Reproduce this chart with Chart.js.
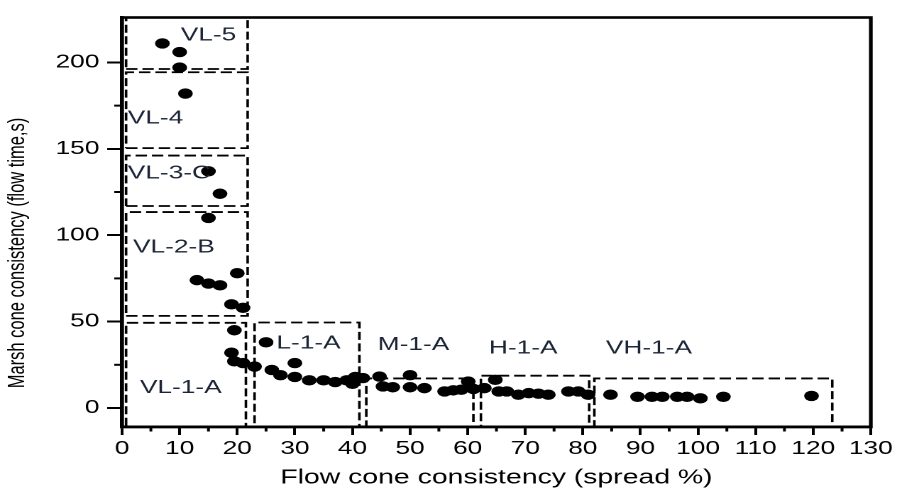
<!DOCTYPE html>
<html><head><meta charset="utf-8">
<script src="https://cdn.jsdelivr.net/npm/chart.js@4/dist/chart.umd.min.js"></script>
<style>
html,body{margin:0;padding:0;background:#fff;overflow:hidden;}
#outer{width:897px;height:490px;overflow:hidden;position:relative;}
#box{position:absolute;left:0;top:0;width:632px;height:490px;transform-origin:0 0;transform:scaleX(1.4193);}
</style></head><body>
<div id="outer"><div id="box"><canvas id="c"></canvas></div></div>
<script>
// ---- data ----
const xTickValues = [0,10,20,30,40,50,60,70,80,90,100,110,120,130];
const xMinorValues = [5,15,25,35,45,55,65,75,85,95,105,115,125];
const yTickValues = [0,50,100,150,200];
const yMinorValues = [25,75,125,175];

const spread = [
  7,10,10,11,
  15,17,15,20,13,15,17,19,21,
  19.5,25,19,19.5,21,23,26,27.5,30,30,32.5,35,37,39,40.5,40,41.8,
  44.7,45.3,47,50,50,52.5,56,57.5,58.9,60.1,61,
  62.9,64.8,65.4,66.8,68.8,70.6,72.3,74,77.5,79.2,80.9,
  84.8,89.5,92,93.8,96.4,98.1,100.4,104.4,119.7
];
const flowTime = [
  211,206,197,182,
  137,124,110,78,74,72,71,60,58,
  45,38,32,27,26,24,22,19,26,18,16,16,15,16,18,14,17.3,
  18.2,12.5,12,19,12,11.5,9.6,10.2,10.6,15.3,11,
  11.5,16.3,9.6,9.6,7.7,8.6,8.3,7.7,9.6,9.6,7.7,
  7.7,6.5,6.5,6.5,6.5,6.5,5.6,6.5,7
];

const boxNames  = ['VL-5','VL-4','VL-3-C','VL-2-B','VL-1-A','L-1-A','M-1-A','H-1-A','VH-1-A'];
const boxLeft   = [0.7,0.7,0.7,0.7,0.7,23,42.4,62.3,82];
const boxRight  = [21.8,21.8,21.8,21.8,21.5,41.2,61,81.1,123.3];
const boxBottom = [196.2,150.4,116.9,53.3,-11,-11,-11,-11,-11];
const boxTop    = [226,194.3,146.1,113.4,49.3,49.5,17.1,18.7,17.1];
const labelX    = [10.2,1.0,1.0,1.9,3.1,26.8,44.4,63.7,84];
const labelY    = [215.5,167.5,135.7,93,11.5,37.5,36.5,34.6,34.6];

const xTitle = 'Flow cone consistency (spread %)';
const yTitle = 'Marsh cone consistency (flow time,s)';
const xRange = [0,130];
const yRange = [-11,226];

// ---- build ----
const FONT = "'Liberation Sans', Arial, Helvetica, sans-serif";
const points = spread.map((x,i)=>({x, y: flowTime[i]}));

const boxDatasets = boxNames.map((n,i)=>({
  label: n,
  data: [
    {x: boxLeft[i], y: boxBottom[i]},
    {x: boxRight[i], y: boxBottom[i]},
    {x: boxRight[i], y: boxTop[i]},
    {x: boxLeft[i], y: boxTop[i]},
    {x: boxLeft[i], y: boxBottom[i]}
  ],
  showLine: true,
  borderColor: '#000',
  borderWidth: 1.8,
  borderDash: [8,3.5],
  pointRadius: 0,
  pointHoverRadius: 0,
  tension: 0,
  fill: false,
  clip: 0,
  order: 2
}));

const decor = {
  id: 'decor',
  afterDatasetsDraw(chart){
    const {ctx, chartArea:a, scales:{x, y}} = chart;
    ctx.save();
    ctx.strokeStyle = '#000';
    ctx.lineWidth = 2;
    // minor ticks
    xMinorValues.forEach(v=>{
      const p = x.getPixelForValue(v);
      ctx.beginPath(); ctx.moveTo(p, a.bottom); ctx.lineTo(p, a.bottom+4.5); ctx.stroke();
    });
    yMinorValues.forEach(v=>{
      const p = y.getPixelForValue(v);
      ctx.beginPath(); ctx.moveTo(a.left, p); ctx.lineTo(a.left-5.5, p); ctx.stroke();
    });
    // frame
    ctx.lineWidth = 2.6;
    ctx.strokeRect(a.left, a.top, a.right-a.left, a.bottom-a.top);
    // box labels
    ctx.fillStyle = '#1b2536';
    ctx.font = '18.5px ' + FONT;
    ctx.textAlign = 'left';
    ctx.textBaseline = 'middle';
    boxNames.forEach((n,i)=>{
      ctx.fillText(n, x.getPixelForValue(labelX[i]), y.getPixelForValue(labelY[i]));
    });
    // y title
    ctx.fillStyle = '#000';
    ctx.font = '16.5px ' + FONT;
    ctx.textAlign = 'center';
    ctx.translate(12.7, 253);
    ctx.rotate(-Math.PI/2);
    ctx.fillText(yTitle, 0, 0);
    ctx.restore();
  }
};

new Chart(document.getElementById('c'), {
  type: 'scatter',
  data: {
    datasets: [
      {
        label: 'data',
        data: points,
        backgroundColor: '#000',
        borderColor: '#000',
        pointRadius: 5.2,
        pointHoverRadius: 5.2,
        borderWidth: 0,
        order: 1
      },
      ...boxDatasets
    ]
  },
  options: {
    responsive: true,
    maintainAspectRatio: false,
    animation: false,
    devicePixelRatio: 2,
    events: [],
    layout: { padding: { left: 0, top: 17.5, right: 16.9, bottom: 0 } },
    plugins: { legend: { display: false }, tooltip: { enabled: false } },
    scales: {
      x: {
        type: 'linear',
        min: xRange[0], max: xRange[1],
        afterFit(s){ s.height = 63; },
        afterBuildTicks(s){ s.ticks = xTickValues.map(v=>({value:v})); },
        grid: { drawOnChartArea: false, tickLength: 8, tickWidth: 2, tickColor: '#000' },
        border: { display: true, color: '#000', width: 2.6 },
        ticks: { color: '#000', padding: 3, font: { family: FONT, size: 18.5 }, maxRotation: 0, autoSkip: false },
        title: { display: true, text: xTitle, color: '#000', font: { family: FONT, size: 20 }, padding: { top: 0, bottom: 0 } }
      },
      y: {
        type: 'linear',
        min: yRange[0], max: yRange[1],
        afterFit(s){ s.width = 86; },
        afterBuildTicks(s){ s.ticks = yTickValues.map(v=>({value:v})); },
        grid: { drawOnChartArea: false, tickLength: 10.5, tickWidth: 2, tickColor: '#000' },
        border: { display: true, color: '#000', width: 2.6 },
        ticks: { color: '#000', padding: 5.5, font: { family: FONT, size: 18.5 }, autoSkip: false },
        title: { display: false }
      }
    }
  },
  plugins: [decor]
});
</script>
</body></html>
